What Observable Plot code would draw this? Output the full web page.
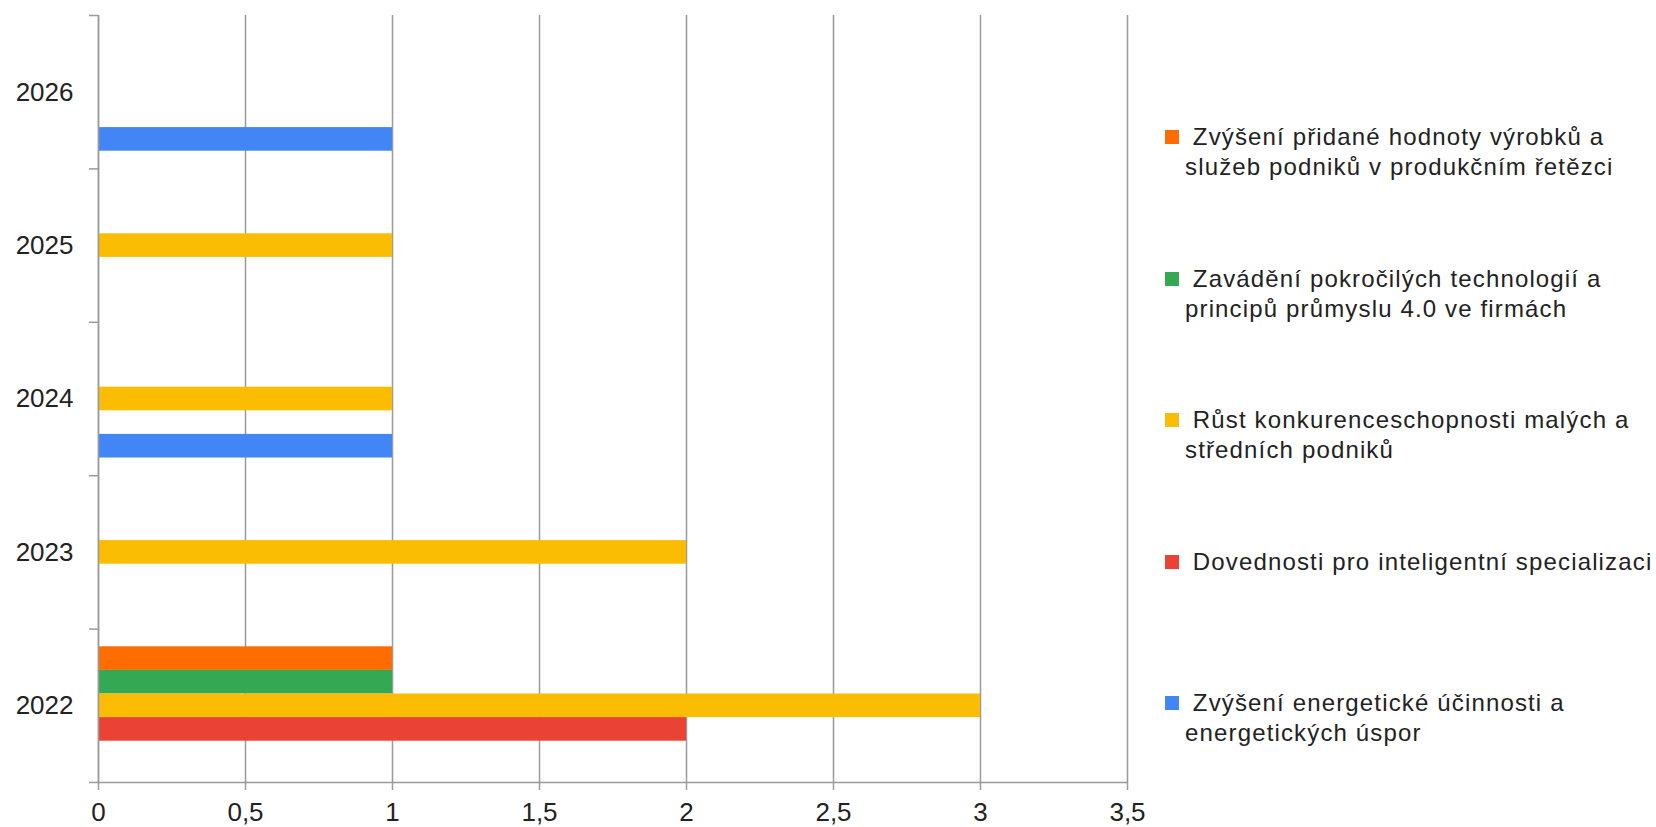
<!DOCTYPE html>
<html>
<head>
<meta charset="utf-8">
<script src="https://cdn.jsdelivr.net/npm/d3@7"></script>
<script src="https://cdn.jsdelivr.net/npm/@observablehq/plot@0.6"></script>
<style>
  html, body { margin: 0; padding: 0; background: #fff; }
  #wrap { position: relative; width: 1656px; height: 827px; font-family: "Liberation Sans", Arial, sans-serif; }
  #chart { position: absolute; left: 0; top: 0; }
  #legend { position: absolute; left: 1165px; top: 122px; color: #222; font-size: 24px; letter-spacing: 1.15px; }
  .item { position: relative; height: 141.5px; }
  .sw { position: absolute; left: 0; top: 8px; width: 14px; height: 14px; }
  .lab { position: absolute; left: 20px; top: 0; line-height: 30px; white-space: nowrap; }
</style>
</head>
<body>
<div id="wrap">
  <div id="chart"></div>
  <div id="legend"></div>
</div>
<script>
const years = [2022, 2023, 2024, 2025, 2026];
const series = [
  "Zvýšení přidané hodnoty výrobků a služeb podniků v produkčním řetězci",
  "Zavádění pokročilých technologií a principů průmyslu 4.0 ve firmách",
  "Růst konkurenceschopnosti malých a středních podniků",
  "Dovednosti pro inteligentní specializaci",
  "Zvýšení energetické účinnosti a energetických úspor"
];
const legendLines = [
  [" Zvýšení přidané hodnoty výrobků a", "služeb podniků v produkčním řetězci"],
  [" Zavádění pokročilých technologií a", "principů průmyslu 4.0 ve firmách"],
  [" Růst konkurenceschopnosti malých a", "středních podniků"],
  [" Dovednosti pro inteligentní specializaci"],
  [" Zvýšení energetické účinnosti a", "energetických úspor"]
];
const colors = ["#FF6D01", "#34A853", "#FBBC04", "#EA4335", "#4285F4"];
// values per series, aligned with years
const vOrange = [1, 0, 0, 0, 0];
const vGreen  = [1, 0, 0, 0, 0];
const vYellow = [3, 2, 1, 1, 0];
const vRed    = [2, 0, 0, 0, 0];
const vBlue   = [0, 0, 1, 0, 1];
const xTicks = [0, 0.5, 1, 1.5, 2, 2.5, 3, 3.5];

const valueArrays = [vOrange, vGreen, vYellow, vRed, vBlue];
const data = [];
series.forEach((s, i) => years.forEach((y, j) => {
  if (valueArrays[i][j] > 0) data.push({year: y, series: s, value: valueArrays[i][j]});
}));

// position of each series inside a year band (top to bottom)
const inner = d3.scaleBand().domain(series).range([0.5, -0.5]).paddingInner(0).paddingOuter(0.75);
const bounds = [...years.map(y => y - 0.5), years[years.length - 1] + 0.5];
const gray = "#9a9a9a";

const chart = Plot.plot({
  width: 1150,
  height: 827,
  marginLeft: 98,
  marginRight: 23,
  marginTop: 15,
  marginBottom: 45,
  style: {fontFamily: "'Liberation Sans', Arial, sans-serif", color: "#222", background: "#fff", overflow: "visible"},
  x: {domain: [0, 3.5], label: null},
  y: {domain: [bounds[0], bounds[bounds.length - 1]], label: null},
  color: {domain: series, range: colors},
  marks: [
    Plot.gridX(xTicks, {stroke: gray, strokeOpacity: 1, strokeWidth: 1.5}),
    Plot.rectX(data, {
      x1: 0, x2: "value",
      y1: d => d.year + inner(d.series),
      y2: d => d.year + inner(d.series) + inner.bandwidth(),
      fill: "series"
    }),
    Plot.ruleX([0], {stroke: gray, strokeWidth: 1.5}),
    Plot.ruleY([bounds[0]], {stroke: gray, strokeWidth: 1.5}),
    Plot.axisY({ticks: bounds, tickSize: 9, tickFormat: () => "", label: null, stroke: gray, strokeOpacity: 1, strokeWidth: 1.5}),
    Plot.axisY({ticks: years, tickSize: 0, tickPadding: 25, tickFormat: d => String(d), label: null, fontSize: 26, fill: "#222"}),
    Plot.axisX({ticks: xTicks, tickSize: 8, tickPadding: 12, tickFormat: d => String(d).replace(".", ","), label: null, fontSize: 26, fill: "#222", stroke: gray, strokeOpacity: 1, strokeWidth: 1.5})
  ]
});
document.getElementById("chart").appendChild(chart);

const legend = document.getElementById("legend");
legendLines.forEach((lines, i) => {
  const item = document.createElement("div");
  item.className = "item";
  const sw = document.createElement("div");
  sw.className = "sw";
  sw.style.background = colors[i];
  const lab = document.createElement("div");
  lab.className = "lab";
  lab.innerHTML = lines.map(l => l.replace(/^ /, "&nbsp;")).join("<br>");
  item.appendChild(sw);
  item.appendChild(lab);
  legend.appendChild(item);
});
</script>
</body>
</html>
